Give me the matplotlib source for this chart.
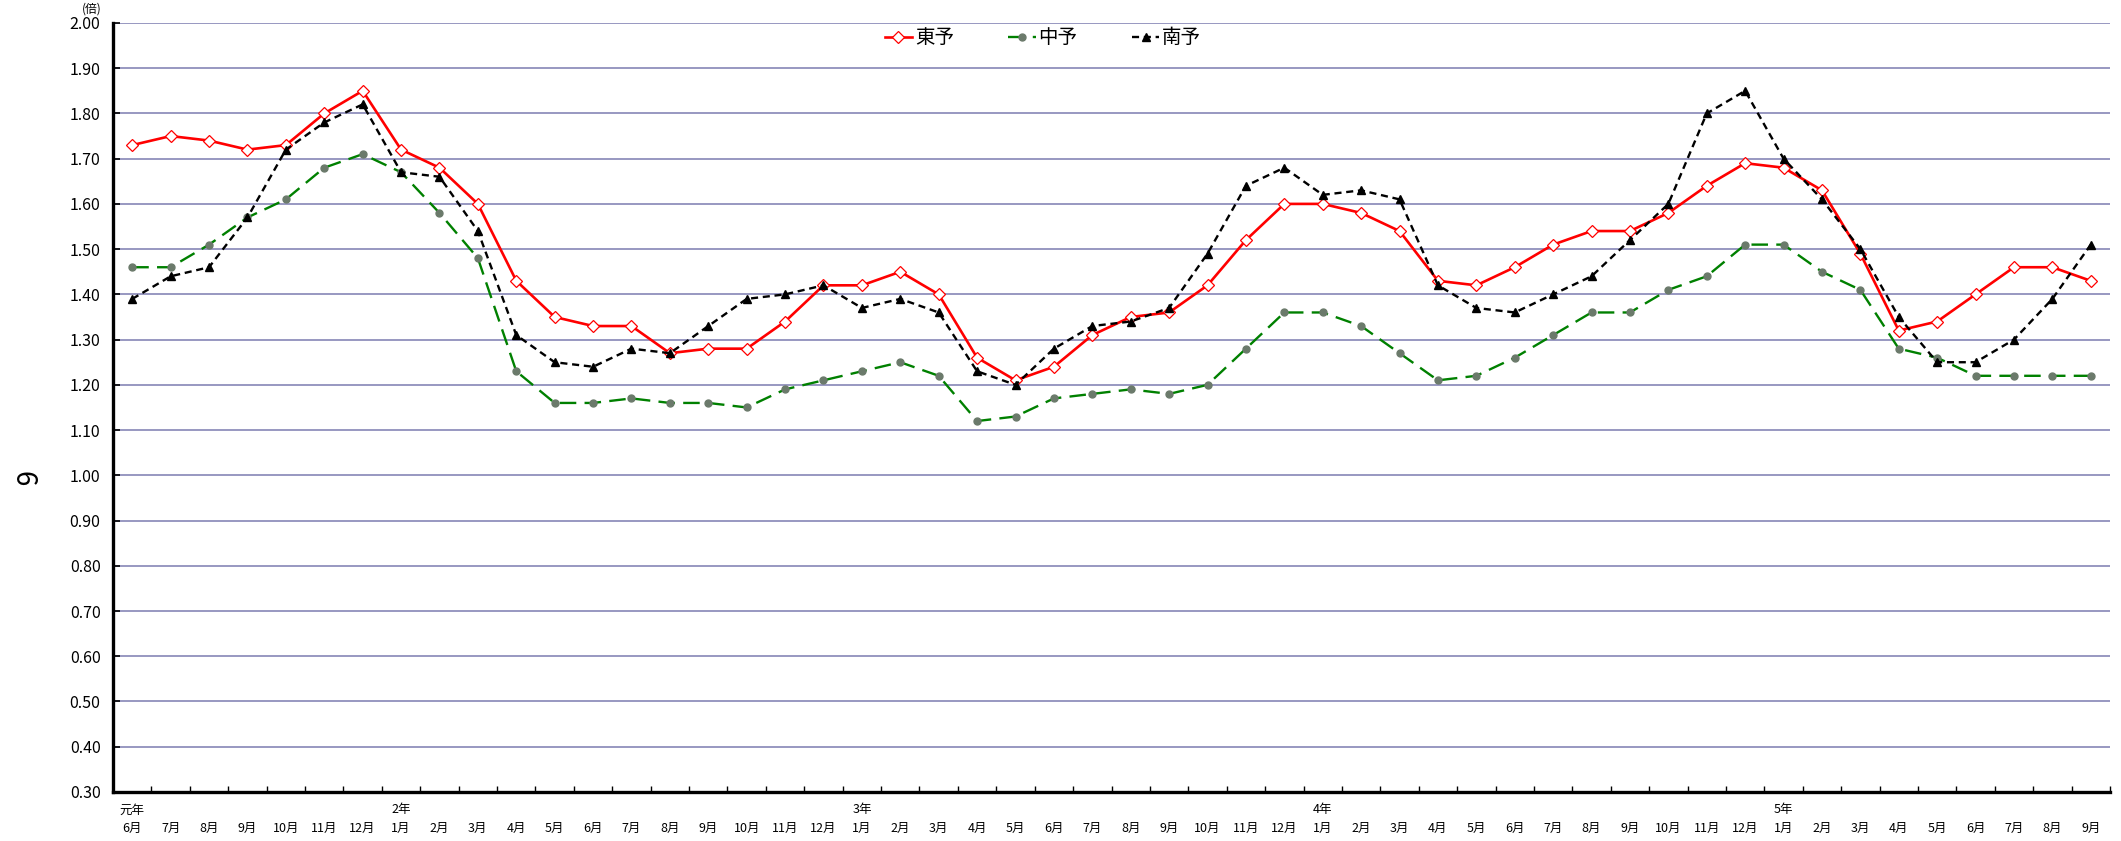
import numpy as np
import matplotlib
matplotlib.use('Agg')
import matplotlib.pyplot as plt

plt.rcParams['font.family'] = ['Noto Sans CJK JP', 'DejaVu Sans']

# ---- Data ---- #
months = ['6月', '7月', '8月', '9月', '10月', '11月', '12月'] + \
    [f'{m}月' for m in range(1, 13)] * 3 + [f'{m}月' for m in range(1, 10)]
years = {0: '元年', 7: '2年', 19: '3年', 31: '4年', 43: '5年'}

toyo = [1.73, 1.75, 1.74, 1.72, 1.73, 1.80, 1.85,
        1.72, 1.68, 1.60, 1.43, 1.35, 1.33, 1.33, 1.27, 1.28, 1.28, 1.34, 1.42,
        1.42, 1.45, 1.40, 1.26, 1.21, 1.24, 1.31, 1.35, 1.36, 1.42, 1.52, 1.60,
        1.60, 1.58, 1.54, 1.43, 1.42, 1.46, 1.51, 1.54, 1.54, 1.58, 1.64, 1.69,
        1.68, 1.63, 1.49, 1.32, 1.34, 1.40, 1.46, 1.46, 1.43]
chuyo = [1.46, 1.46, 1.51, 1.57, 1.61, 1.68, 1.71,
         1.67, 1.58, 1.48, 1.23, 1.16, 1.16, 1.17, 1.16, 1.16, 1.15, 1.19, 1.21,
         1.23, 1.25, 1.22, 1.12, 1.13, 1.17, 1.18, 1.19, 1.18, 1.20, 1.28, 1.36,
         1.36, 1.33, 1.27, 1.21, 1.22, 1.26, 1.31, 1.36, 1.36, 1.41, 1.44, 1.51,
         1.51, 1.45, 1.41, 1.28, 1.26, 1.22, 1.22, 1.22, 1.22]
nanyo = [1.39, 1.44, 1.46, 1.57, 1.72, 1.78, 1.82,
         1.67, 1.66, 1.54, 1.31, 1.25, 1.24, 1.28, 1.27, 1.33, 1.39, 1.40, 1.42,
         1.37, 1.39, 1.36, 1.23, 1.20, 1.28, 1.33, 1.34, 1.37, 1.49, 1.64, 1.68,
         1.62, 1.63, 1.61, 1.42, 1.37, 1.36, 1.40, 1.44, 1.52, 1.60, 1.80, 1.85,
         1.70, 1.61, 1.50, 1.35, 1.25, 1.25, 1.30, 1.39, 1.51]

x = np.arange(len(months))

# ---- Plot ---- #
fig = plt.figure(figsize=(21.21, 8.41), dpi=100)
ax = fig.add_axes([0.0533, 0.0583, 0.9415, 0.9144])

# Gridlines
yt = np.round(np.arange(0.3, 2.001, 0.1), 2)
for v in yt[1:]:
    ax.axhline(v, color='#9090bc', linewidth=1.3, zorder=1)

ax.plot(x, toyo, color='#ff0000', linewidth=1.9, marker='D', markersize=6,
        markerfacecolor='white', markeredgecolor='#ff0000', markeredgewidth=0.9,
        label='東予', zorder=4)
ax.plot(x, chuyo, color='#008000', linewidth=1.7, dashes=(7, 3.5), marker='o',
        markersize=5, markerfacecolor='#6b7a6b', markeredgecolor='#6b7a6b',
        label='中予', zorder=3)
ax.plot(x, nanyo, color='black', linewidth=1.7, dashes=(3, 2), marker='^',
        markersize=6, markerfacecolor='black', markeredgecolor='black',
        label='南予', zorder=5)

ax.set_xlim(-0.5, len(months) - 0.5)
ax.set_ylim(0.3, 2.0)

# Axes style
for s in ['top', 'right']:
    ax.spines[s].set_visible(False)
for s in ['left', 'bottom']:
    ax.spines[s].set_linewidth(2.4)
    ax.spines[s].set_color('black')

ax.set_yticks(yt)
ax.set_yticklabels([f'{v:.2f}' for v in yt], fontsize=11.5)
ax.tick_params(axis='y', direction='in', length=5, width=1.2, pad=9)

# Category boundaries get tick marks, labels drawn as text
ax.set_xticks(np.arange(-0.5, len(months)))
ax.set_xticklabels([])
ax.tick_params(axis='x', direction='in', length=4, width=1.0)

for i, m in enumerate(months):
    ax.annotate(m, xy=(i, 0), xycoords=('data', 'axes fraction'),
                xytext=(0, -36), textcoords='offset pixels',
                ha='center', va='center', fontsize=9)
for i, yname in years.items():
    ax.annotate(yname, xy=(i, 0), xycoords=('data', 'axes fraction'),
                xytext=(0, -18), textcoords='offset pixels',
                ha='center', va='center', fontsize=9)

# Unit label and side label
fig.text(92 / 2121, 1 - 9 / 841, '(倍)', ha='center', va='center', fontsize=8.5)
fig.text(22 / 2121, 1 - 479 / 841, '6', ha='center', va='center', fontsize=20,
         rotation=-90)

ax.legend(loc='center', bbox_to_anchor=(0.4657, 0.9805), ncol=3, frameon=False,
          fontsize=14, handlelength=1.4, handletextpad=0.15, columnspacing=2.8)

plt.savefig('out.png', dpi=100)
